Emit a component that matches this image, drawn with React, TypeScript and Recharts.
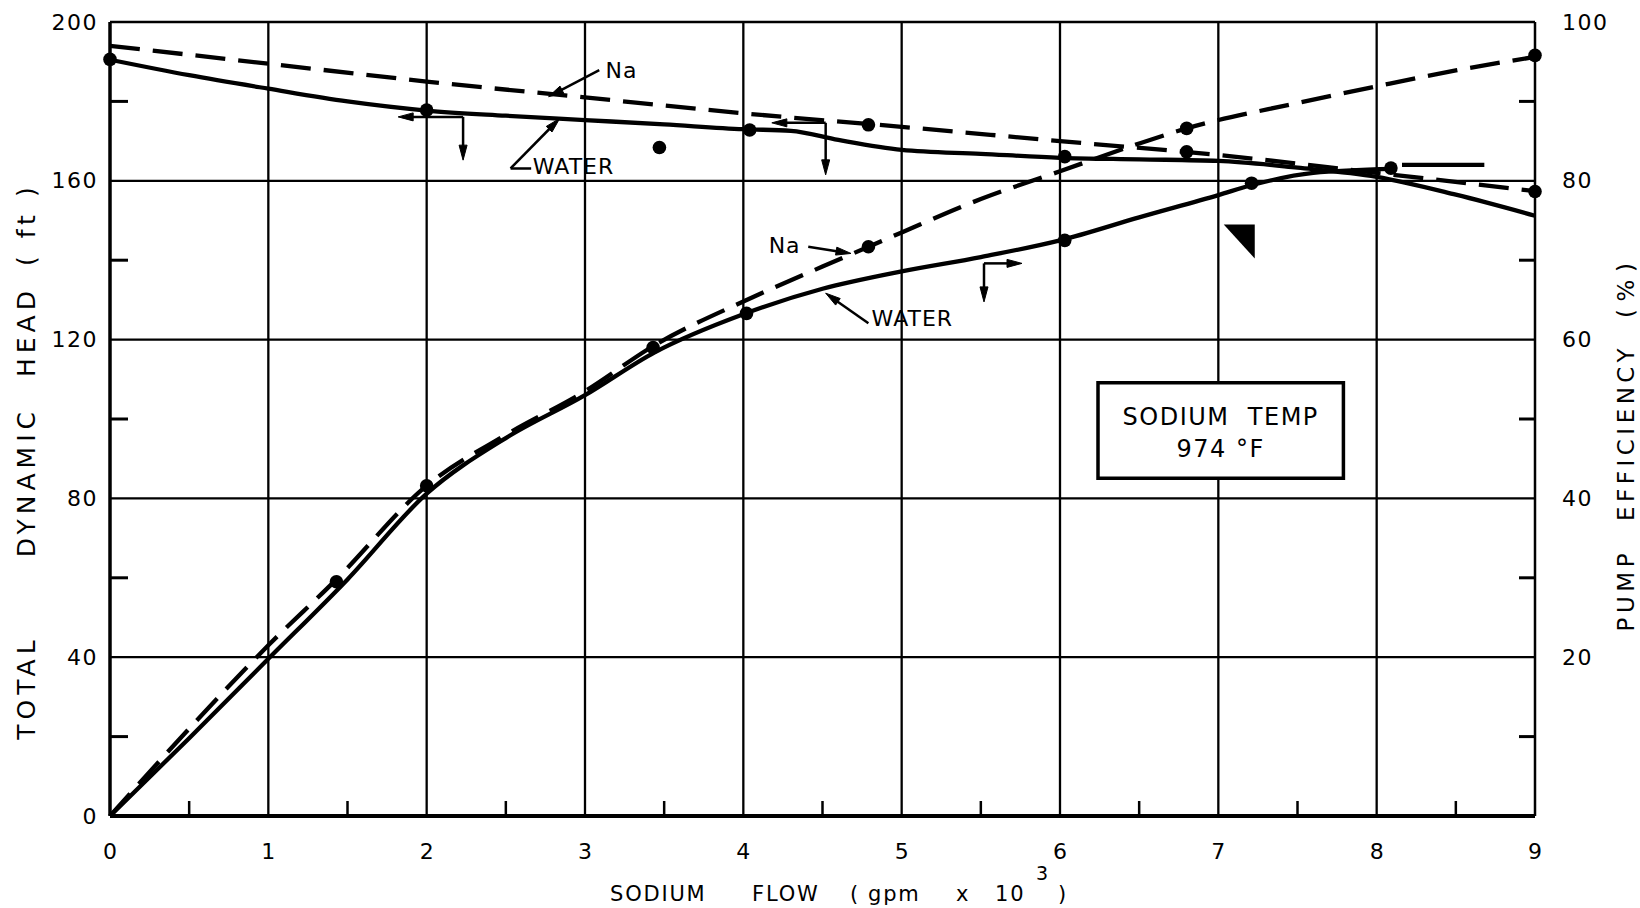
import React from 'react';
import {
  ComposedChart,
  Line,
  Scatter,
  XAxis,
  YAxis,
  CartesianGrid,
  ReferenceLine,
  ReferenceArea,
  ReferenceDot,
  Label,
} from 'recharts';

const FONT = '"DejaVu Sans", "Liberation Sans", sans-serif';

// ---- axis ticks / grid values ----
const flowTicks = [0, 0.5, 1, 1.5, 2, 2.5, 3, 3.5, 4, 4.5, 5, 5.5, 6, 6.5, 7, 7.5, 8, 8.5, 9];
const headTicks = [0, 20, 40, 60, 80, 100, 120, 140, 160, 180, 200];
const effTicks = [0, 10, 20, 30, 40, 50, 60, 70, 80, 90, 100];
const flowGrid = [1, 2, 3, 4, 5, 6, 7, 8];
const headGrid = [40, 80, 120, 160, 200];

// ---- curves: total dynamic head (ft) ----
const naHeadFlow = [0, 1, 2, 3, 4, 5, 6, 7, 8, 9];
const naHead = [194, 189.5, 185, 181, 177, 173.6, 170, 166.5, 162, 157.4];
const waterHeadFlow = [0, 0.5, 1, 1.5, 2, 2.5, 3, 3.5, 4, 4.3, 4.6, 5, 5.5, 6, 6.5, 7, 7.5, 8, 8.5, 9];
const waterHead = [190.5, 186.6, 183.2, 180, 177.7, 176.4, 175.3, 174.2, 173, 172.6, 170.3, 167.8, 166.8, 165.8, 165.4, 165, 163.3, 161, 156.5, 151.2];

// ---- curves: pump efficiency (%) ----
const naEffFlow = [0, 0.5, 1, 1.43, 2, 2.5, 3, 3.44, 4, 4.5, 4.78, 5, 5.5, 6, 6.5, 6.8, 7.5, 8, 8.5, 9];
const naEff = [0, 11, 21.5, 29.8, 41.6, 48, 53.5, 59.3, 64.8, 69.2, 71.6, 73.5, 77.7, 81.2, 84.7, 86.6, 89.8, 91.9, 93.9, 95.6];
const waterEffFlow = [0, 0.5, 1, 1.5, 2, 2.5, 3, 3.44, 4, 4.5, 5, 5.5, 6, 6.5, 7, 7.22, 7.6, 8.1];
const waterEff = [0, 9.8, 19.8, 29.8, 40.6, 47.6, 53, 58.4, 63.2, 66.4, 68.6, 70.4, 72.5, 75.4, 78.2, 79.5, 81, 81.5];
const waterEffExtFlow = [8.16, 8.68];
const waterEffExt = [82, 82];

// ---- measured points ----
const headPtFlow = [0, 2, 3.47, 4.04, 4.79, 6.03, 6.8, 9];
const headPt = [190.6, 177.8, 168.4, 172.8, 174.1, 166.1, 167.3, 157.3];
const effPtFlow = [1.43, 2, 3.43, 4.02, 4.79, 6.03, 6.8, 7.21, 8.09, 9];
const effPt = [29.5, 41.6, 59, 63.3, 71.7, 72.5, 86.6, 79.7, 81.6, 95.8];

// ---- annotations (in flow / head units) ----
const noteTexts = [
  { x: 3.13, y: 187.7, text: 'Na' },
  { x: 2.67, y: 163.5, text: 'WATER' },
  { x: 4.16, y: 143.6, text: 'Na' },
  { x: 4.81, y: 125.2, text: 'WATER' },
];
const noteArrows = [
  { x1: 3.09, y1: 187.9, x2: 2.77, y2: 181.2, head: true },
  { x1: 2.53, y1: 163.1, x2: 2.84, y2: 175.7, head: true },
  { x1: 2.53, y1: 163.1, x2: 2.66, y2: 163.1, head: false },
  { x1: 2.23, y1: 176.1, x2: 1.82, y2: 176.1, head: true },
  { x1: 2.23, y1: 176.1, x2: 2.23, y2: 165.2, head: true },
  { x1: 4.52, y1: 174.6, x2: 4.18, y2: 174.6, head: true },
  { x1: 4.52, y1: 174.6, x2: 4.52, y2: 161.5, head: true },
  { x1: 4.41, y1: 143.4, x2: 4.68, y2: 141.7, head: true },
  { x1: 4.79, y1: 124.1, x2: 4.52, y2: 131.7, head: true },
  { x1: 5.52, y1: 139.2, x2: 5.76, y2: 139.2, head: true },
  { x1: 5.52, y1: 139.2, x2: 5.52, y2: 129.5, head: true },
];
const designPoint = { x: 7.23, y: 149 };
const tempBox = { x1: 6.24, x2: 7.79, y1: 85.1, y2: 109.1, line1: 'SODIUM  TEMP', line2: '974 °F' };

const toPts = (xs: number[], ys: number[]) => xs.map((x, i) => ({ x, y: ys[i] }));

const HEAD_MARGIN = 12;
const EFF_MARGIN = 27;
const FLOW_MARGIN = 35;

const HeadTick = (props: any) => {
  const { x, y, payload } = props;
  const v = payload.value;
  const axisX = x + HEAD_MARGIN;
  if (v % 40 !== 0) {
    return <line x1={axisX} x2={axisX + 18} y1={y} y2={y} stroke="#000" strokeWidth={3} />;
  }
  return (
    <text x={x} y={y} textAnchor="end" dominantBaseline="central" fontSize={22} fontFamily={FONT} letterSpacing={1.5} fill="#000">
      {v}
    </text>
  );
};

const EffTick = (props: any) => {
  const { x, y, payload } = props;
  const v = payload.value;
  const axisX = x - EFF_MARGIN;
  if (v === 0) return <g />;
  if (v % 20 !== 0) {
    return <line x1={axisX - 16} x2={axisX} y1={y} y2={y} stroke="#000" strokeWidth={3} />;
  }
  return (
    <text x={x} y={y} textAnchor="start" dominantBaseline="central" fontSize={22} fontFamily={FONT} letterSpacing={1.5} fill="#000">
      {v}
    </text>
  );
};

const FlowTick = (props: any) => {
  const { x, y, payload } = props;
  const v = payload.value;
  const axisY = y - FLOW_MARGIN;
  if (!Number.isInteger(v)) {
    return <line x1={x} x2={x} y1={axisY} y2={axisY - 15} stroke="#000" strokeWidth={2.5} />;
  }
  return (
    <text x={x} y={y} textAnchor="middle" dominantBaseline="central" fontSize={22} fontFamily={FONT} fill="#000">
      {v}
    </text>
  );
};

const LeftTitle = (props: any) => {
  const vb = props.viewBox;
  const cx = vb.x + 26;
  const cy = vb.y + vb.height / 2 + 42;
  return (
    <text
      x={cx}
      y={cy}
      transform={`rotate(-90 ${cx} ${cy})`}
      textAnchor="middle"
      dominantBaseline="central"
      fontSize={25}
      fontFamily={FONT}
      letterSpacing={5}
      fill="#000"
    >
      <tspan>TOTAL</tspan>
      <tspan dx={78}>DYNAMIC</tspan>
      <tspan dx={30}>HEAD</tspan>
      <tspan dx={20}>(</tspan>
      <tspan dx={13}>ft</tspan>
      <tspan dx={13}>)</tspan>
    </text>
  );
};

const RightTitle = (props: any) => {
  const vb = props.viewBox;
  const cx = vb.x + 91;
  const cy = vb.y + vb.height / 2 + 26;
  return (
    <text
      x={cx}
      y={cy}
      transform={`rotate(-90 ${cx} ${cy})`}
      textAnchor="middle"
      dominantBaseline="central"
      fontSize={23}
      fontFamily={FONT}
      letterSpacing={4.5}
      fill="#000"
    >
      <tspan>PUMP</tspan>
      <tspan dx={28}>EFFICIENCY</tspan>
      <tspan dx={26}>(</tspan>
      <tspan dx={3}>%</tspan>
      <tspan dx={3}>)</tspan>
    </text>
  );
};

const BottomTitle = (props: any) => {
  const vb = props.viewBox;
  const b = vb.x;
  const y = vb.y + 85;
  return (
    <text y={y} fontSize={21} fontFamily={FONT} letterSpacing={1.8} fill="#000">
      <tspan x={b + 500}>SODIUM</tspan>
      <tspan x={b + 642}>FLOW</tspan>
      <tspan x={b + 740}>(</tspan>
      <tspan x={b + 758}>gpm</tspan>
      <tspan x={b + 846}>x</tspan>
      <tspan x={b + 885}>10</tspan>
      <tspan x={b + 926} dy={-21} fontSize={19}>3</tspan>
      <tspan x={b + 948} dy={21}>)</tspan>
    </text>
  );
};

const makeArrow = (head: boolean) => (p: any) => {
  const x1 = Number(p.x1);
  const y1 = Number(p.y1);
  const x2 = Number(p.x2);
  const y2 = Number(p.y2);
  const dx = x2 - x1;
  const dy = y2 - y1;
  const len = Math.hypot(dx, dy) || 1;
  const ux = dx / len;
  const uy = dy / len;
  const L = 15;
  const W = 4;
  const bx = x2 - ux * L;
  const by = y2 - uy * L;
  return (
    <g>
      <line x1={x1} y1={y1} x2={head ? bx + ux * 2 : x2} y2={head ? by + uy * 2 : y2} stroke="#000" strokeWidth={2.5} />
      {head && (
        <polygon
          points={`${x2},${y2} ${bx - uy * W},${by + ux * W} ${bx + uy * W},${by - ux * W}`}
          fill="#000"
          stroke="#000"
          strokeWidth={1}
        />
      )}
    </g>
  );
};

const makeNote = (text: string) => (p: any) => (
  <text x={p.cx} y={p.cy} dominantBaseline="central" fontSize={22} fontFamily={FONT} letterSpacing={1} fill="#000">
    {text}
  </text>
);

const TriangleShape = (p: any) => (
  <polygon points={`${p.cx - 31},${p.cy} ${p.cx},${p.cy} ${p.cx},${p.cy + 34}`} fill="#000" />
);

const BoxLabel = (props: any) => {
  const vb = props.viewBox;
  const cx = vb.x + vb.width / 2;
  return (
    <g>
      <text x={cx} y={vb.y + 34} textAnchor="middle" dominantBaseline="central" fontSize={24} fontFamily={FONT} letterSpacing={1.5} fill="#000" style={{ whiteSpace: 'pre' }}>
        {tempBox.line1}
      </text>
      <text x={cx} y={vb.y + 66} textAnchor="middle" dominantBaseline="central" fontSize={24} fontFamily={FONT} letterSpacing={1.5} fill="#000" style={{ whiteSpace: 'pre' }}>
        {tempBox.line2}
      </text>
    </g>
  );
};

const Dot = (p: any) => <circle cx={p.cx} cy={p.cy} r={6.8} fill="#000" />;

export default function App() {
  return (
    <div style={{ position: 'absolute', left: 0, top: 0, width: 1640, height: 908, background: '#fff' }}>
      <ComposedChart width={1640} height={908} margin={{ top: 22, right: 0, bottom: 0, left: 0 }}>
        <CartesianGrid
          yAxisId="head"
          stroke="#000"
          strokeWidth={2.3}
          horizontalValues={headGrid}
          verticalValues={flowGrid}
          fill="none"
        />
        <XAxis
          type="number"
          dataKey="x"
          domain={[0, 9]}
          ticks={flowTicks}
          interval={0}
          tickSize={0}
          tickMargin={FLOW_MARGIN}
          tickLine={false}
          tick={FlowTick}
          axisLine={{ stroke: '#000', strokeWidth: 4 }}
          height={92}
        >
          <Label content={BottomTitle} />
        </XAxis>
        <YAxis
          yAxisId="head"
          orientation="left"
          type="number"
          domain={[0, 200]}
          ticks={headTicks}
          interval={0}
          tickSize={0}
          tickMargin={HEAD_MARGIN}
          tickLine={false}
          tick={HeadTick}
          axisLine={{ stroke: '#000', strokeWidth: 3.5 }}
          width={110}
        >
          <Label content={LeftTitle} />
        </YAxis>
        <YAxis
          yAxisId="eff"
          orientation="right"
          type="number"
          domain={[0, 100]}
          ticks={effTicks}
          interval={0}
          tickSize={0}
          tickMargin={EFF_MARGIN}
          tickLine={false}
          tick={EffTick}
          axisLine={{ stroke: '#000', strokeWidth: 2.5 }}
          width={105}
        >
          <Label content={RightTitle} />
        </YAxis>

        <ReferenceArea
          yAxisId="head"
          x1={tempBox.x1}
          x2={tempBox.x2}
          y1={tempBox.y1}
          y2={tempBox.y2}
          fill="#fff"
          fillOpacity={1}
          stroke="#000"
          strokeWidth={3.5}
          label={BoxLabel}
        />

        <Line yAxisId="head" data={toPts(naHeadFlow, naHead)} dataKey="y" type="monotone" stroke="#000" strokeWidth={4.3} strokeDasharray="30 13" dot={false} isAnimationActive={false} />
        <Line yAxisId="head" data={toPts(waterHeadFlow, waterHead)} dataKey="y" type="monotone" stroke="#000" strokeWidth={4.3} dot={false} isAnimationActive={false} />
        <Line yAxisId="eff" data={toPts(naEffFlow, naEff)} dataKey="y" type="monotone" stroke="#000" strokeWidth={4.3} strokeDasharray="30 13" dot={false} isAnimationActive={false} />
        <Line yAxisId="eff" data={toPts(waterEffFlow, waterEff)} dataKey="y" type="monotone" stroke="#000" strokeWidth={4.3} dot={false} isAnimationActive={false} />
        <Line yAxisId="eff" data={toPts(waterEffExtFlow, waterEffExt)} dataKey="y" type="linear" stroke="#000" strokeWidth={4.3} dot={false} isAnimationActive={false} />

        <Scatter yAxisId="head" data={toPts(headPtFlow, headPt)} dataKey="y" shape={Dot} isAnimationActive={false} />
        <Scatter yAxisId="eff" data={toPts(effPtFlow, effPt)} dataKey="y" shape={Dot} isAnimationActive={false} />

        {noteArrows.map((a, i) => (
          <ReferenceLine
            key={`ar${i}`}
            yAxisId="head"
            segment={[{ x: a.x1, y: a.y1 }, { x: a.x2, y: a.y2 }]}
            shape={makeArrow(a.head)}
          />
        ))}
        {noteTexts.map((t, i) => (
          <ReferenceDot key={`nt${i}`} yAxisId="head" x={t.x} y={t.y} r={0} shape={makeNote(t.text)} />
        ))}
        <ReferenceDot yAxisId="head" x={designPoint.x} y={designPoint.y} r={0} shape={TriangleShape} />
      </ComposedChart>
    </div>
  );
}
